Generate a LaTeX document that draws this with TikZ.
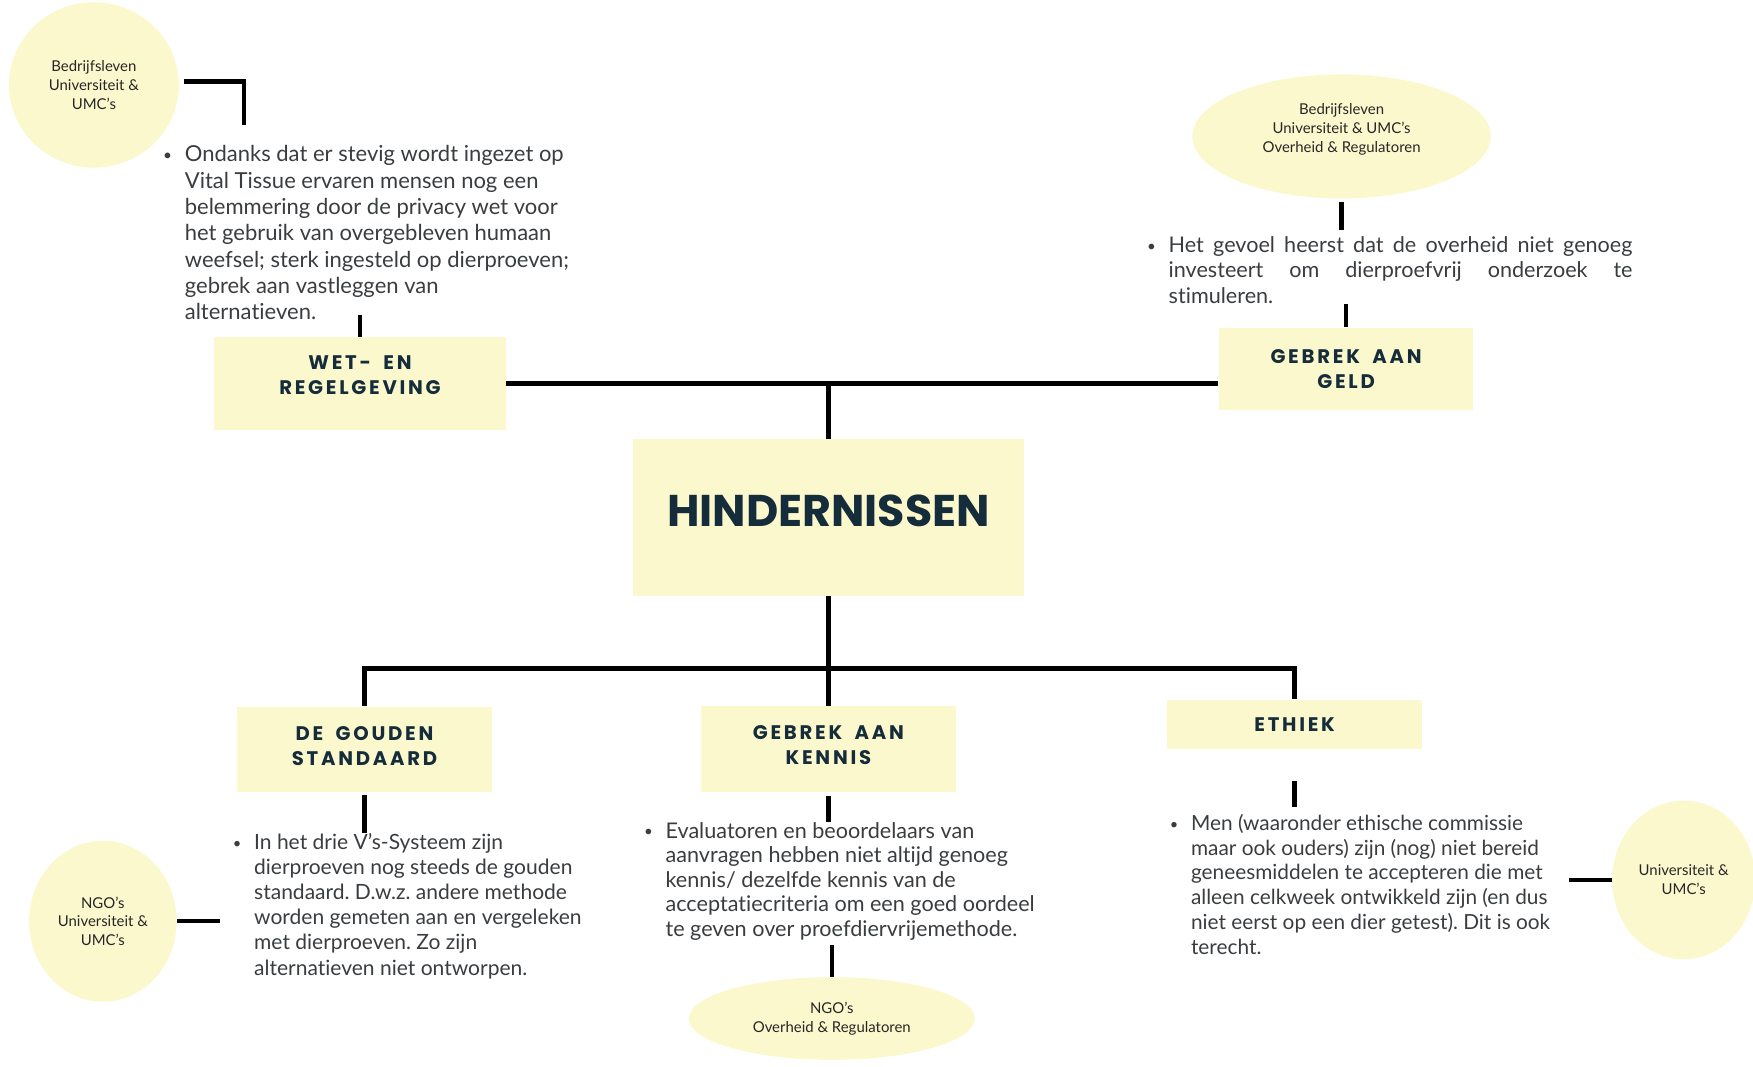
\documentclass[tikz,border=0pt]{standalone}
\usepackage{fontspec}
\setmainfont{Lato}[Ligatures={TeX,NoCommon}]
\newfontfamily\kopfont[LetterSpace=14,WordSpace=1.8]{Poppins}
\newfontfamily\titelfont{Poppins}
\usetikzlibrary{shapes.geometric}
\definecolor{geel}{HTML}{FCF8CD}
\definecolor{inkt}{HTML}{152C3B}
\definecolor{tekst}{HTML}{3A3D40}
\newcommand\bul{\llap{\raisebox{0.6pt}{\scalebox{0.7}{\textbullet}}\hspace{6.5pt}}}
\frenchspacing
\begin{document}
\begin{tikzpicture}[x=0.02cm,y=-0.02cm,
	kop/.style={fill=geel,inner sep=0pt,align=center,text=inkt,minimum width=4.56cm,
		font=\kopfont\bfseries\fontsize{10}{12.8}\selectfont},
	partij/.style={ellipse,fill=geel,inner sep=0pt,align=center,text=black!85,
		font=\fontsize{7.6}{9.6}\selectfont},
	noot/.style={inner sep=0pt,anchor=north west,align=left,text=tekst,
		font=\fontsize{11}{12.8}\selectfont},
	lijn/.style={line width=2.2pt}]
	\useasboundingbox (0,0) rectangle (1568,954);
	\node[kop,minimum width=7cm,minimum height=2.8cm,text depth=0.26cm,
		font=\titelfont\bfseries\fontsize{22.6}{26}\selectfont] (hind) at (741,463) {HINDERNISSEN};
	\node[kop,minimum width=5.22cm,minimum height=1.66cm,text depth=0.3cm] (wet) at (322,343) {WET- EN\\REGELGEVING};
	\node[kop,minimum height=1.48cm] (geld) at (1204,330) {GEBREK AAN\\GELD};
	\node[kop,minimum height=1.52cm,text depth=0.12cm] (gouden) at (326,670) {DE GOUDEN\\STANDAARD};
	\node[kop,minimum height=1.54cm,text depth=0.15cm] (kennis) at (741,670) {GEBREK AAN\\KENNIS};
	\node[kop,minimum height=0.88cm] (ethiek) at (1158,648) {ETHIEK};
	\node[partij,minimum width=3.04cm,minimum height=2.96cm] (p1) at (84,76) {Bedrijfsleven\\Universiteit \&\\UMC’s};
	\node[partij,minimum width=5.34cm,minimum height=2.22cm,text depth=0.3cm] (p2) at (1200,122) {Bedrijfsleven\\Universiteit \& UMC’s\\Overheid \& Regulatoren};
	\node[partij,minimum width=2.64cm,minimum height=2.88cm] (p3) at (92,824) {NGO’s\\Universiteit \&\\UMC’s};
	\node[partij,minimum width=5.12cm,minimum height=1.48cm] (p4) at (744,911) {NGO's\\Overheid \& Regulatoren};
	\node[partij,minimum width=2.56cm,minimum height=2.84cm] (p5) at (1506,787) {Universiteit \&\\UMC’s};
	\node[noot,font=\fontsize{11.2}{13.4}\selectfont] (t1) at (165,130) {\bul Ondanks dat er stevig wordt ingezet op\\Vital Tissue ervaren mensen nog een\\belemmering door de privacy wet voor\\het gebruik van overgebleven humaan\\weefsel; sterk ingesteld op dierproeven;\\gebrek aan vastleggen van\\alternatieven.};
	\node[noot,align=justify,text width=8.3cm,font=\fontsize{11}{13}\selectfont] (t2) at (1045,211) {\bul Het gevoel heerst dat de overheid niet genoeg\linebreak investeert om dierproefvrij onderzoek te\linebreak stimuleren.};
	\node[noot,font=\fontsize{10.7}{12.8}\selectfont] (t3) at (227,745) {\bul In het drie V’s-Systeem zijn\\dierproeven nog steeds de gouden\\standaard. D.w.z. andere methode\\worden gemeten aan en vergeleken\\met dierproeven. Zo zijn\\alternatieven niet ontworpen.};
	\node[noot,font=\fontsize{11}{12.5}\selectfont] (t4) at (595,735) {\bul Evaluatoren en beoordelaars van\\aanvragen hebben niet altijd genoeg\\kennis/ dezelfde kennis van de\\acceptatiecriteria om een goed oordeel\\te geven over proefdiervrijemethode.};
	\node[noot,font=\fontsize{10.6}{12.6}\selectfont] (t5) at (1065,728) {\bul Men (waaronder ethische commissie\\maar ook ouders) zijn (nog) niet bereid\\geneesmiddelen te accepteren die met\\alleen celkweek ontwikkeld zijn (en dus\\niet eerst op een dier getest). Dit is ook\\terecht.};
	\coordinate (k1) at (218,112);
	\coordinate (hub) at (741,598);
	\draw[lijn] ([shift={(0.08cm,0.06cm)}]p1.east) -| (k1);
	\draw[lijn,shorten >=-0.1cm] (wet.north) -- (wet.north |- t1.south);
	\draw[lijn] (wet.east) -- (wet.east -| geld.west);
	\draw[lijn] (hind.north) -- (hind.north |- wet.east);
	\draw[lijn,shorten <=0.06cm,shorten >=0.1cm] (p2.south) -- (p2.south |- t2.north);
	\draw[lijn] (geld.north) -- (geld.north |- t2.south);
	\draw[lijn] (hind.south) -- (kennis.north);
	\draw[lijn] (gouden.north) |- (hub) -| (ethiek.north);
	\draw[lijn,shorten <=0.06cm] (gouden.south) -- (gouden.south |- t3.north);
	\draw[lijn,shorten >=0.6cm] (p3.east) -- (p3.east -| t3.west);
	\draw[lijn,shorten <=0.06cm] (kennis.south) -- (kennis.south |- t4.north);
	\draw[lijn,shorten >=0.08cm] (p4.north) -- (p4.north |- t4.south);
	\draw[lijn,shorten <=0.56cm,shorten >=0.12cm] (ethiek.south) -- (ethiek.south |- t5.north);
	\draw[lijn,shorten >=0.32cm] (p5.west) -- (p5.west -| t5.east);
\end{tikzpicture}
\end{document}
